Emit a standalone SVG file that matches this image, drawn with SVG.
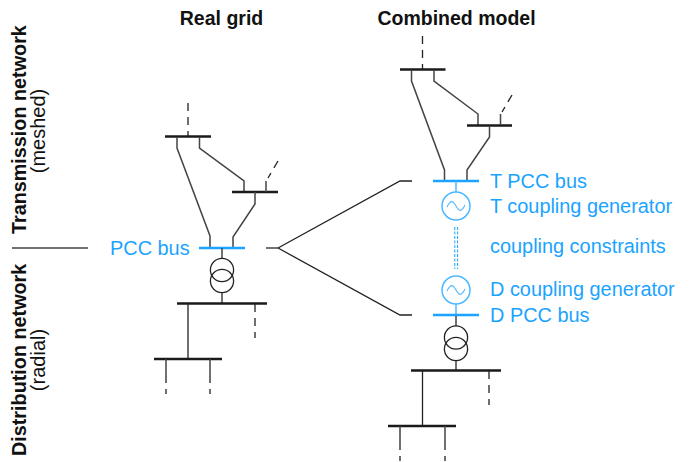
<svg xmlns="http://www.w3.org/2000/svg" width="694" height="462" viewBox="0 0 694 462">
<style>
.bus{stroke:#1a1a1a;stroke-width:2.4;fill:none}
.pcc{stroke:#1aa3ff;stroke-width:2.4;fill:none}
.ln{stroke:#222;stroke-width:1.3;fill:none}
.st{stroke:#444;stroke-width:1.5;fill:none}
.da{stroke:#222;stroke-width:1.3;fill:none;stroke-dasharray:8 6}
.bl{stroke:#4db8ff;stroke-width:1.5;fill:none}
.wv{stroke:#4db8ff;stroke-width:1.100;fill:none}
.dd{stroke:#1aa3ff;stroke-width:1;fill:none;stroke-dasharray:3 1.5}
text{font-family:"Liberation Sans",Arial,sans-serif}
.t{font-size:19.900px;fill:#1aa3ff}
.h{font-size:19.500px;font-weight:700;fill:#111}
.r{font-size:19.800px;font-weight:700;fill:#111}
.s{font-size:20px;fill:#111}
</style>
<g id="labels">
<text class="h" x="221.500" y="25" text-anchor="middle">Real grid</text>
<text class="h" x="456.500" y="25" text-anchor="middle">Combined model</text>
<text class="r" transform="translate(26,234) rotate(-90)">Transmission network</text>
<text class="s" transform="translate(45,131) rotate(-90)" text-anchor="middle">(meshed)</text>
<text class="r" transform="translate(26,456) rotate(-90)">Distribution network</text>
<text class="s" transform="translate(45,360) rotate(-90)" text-anchor="middle">(radial)</text>
</g>
<g id="connectors">
<path class="st" d="M12 248H88"/>
<path class="st" d="M266 248H278"/>
<path class="ln" d="M278 248L400 181H412M278 248L400 315H412"/>
</g>
<g id="real-grid">
<path class="da" d="M188 103V136"/>
<path class="bus" d="M165 136.500H211"/>
<path class="st" d="M177 137V148L210 236V248M199.500 137V148L244 181V192"/>
<path class="bus" d="M232 192H278"/>
<path class="st" d="M266 192V181M255 192V204L233 237V248"/>
<path class="da" d="M278 161L268 178"/>
<path class="pcc" d="M199 248H245"/>
<path class="st" d="M222 248V259M222 292V303"/>
<circle class="ln" cx="222" cy="270" r="11.600"/>
<circle class="ln" cx="222" cy="281" r="11.600"/>
<path class="bus" d="M177 303.500H267"/>
<path class="ln" d="M188 304V359"/>
<path class="da" d="M255 304V338"/>
<path class="bus" d="M154 359H222"/>
<path class="st" d="M166 359V375M210 359V375"/>
<path class="da" d="M166 375V394M210 375V394"/>
</g>
<g id="combined-model">
<path class="da" d="M422.500 36V69"/>
<path class="bus" d="M400 69.500H445.500"/>
<path class="st" d="M411.500 70V81L444.500 170V181M434 70V81L478 114V125"/>
<path class="bus" d="M467 125.500H512"/>
<path class="st" d="M500.500 125V114M489.500 126V137L467 170V181"/>
<path class="da" d="M512 95L502 112"/>
<path class="pcc" d="M433 181H479"/>
<path class="bl" d="M456 181V192"/>
<circle class="bl" cx="456" cy="206" r="14"/>
<path class="wv" d="M447 207C451 199 453 201 456 206C459 211 461 213 465 205"/>
<path class="dd" d="M454.800 227V269M457.600 227V269"/>
<circle class="bl" cx="456" cy="290" r="14"/>
<path class="wv" d="M447 291C451 283 453 285 456 290C459 295 461 297 465 289"/>
<path class="bl" d="M456 304V315"/>
<path class="pcc" d="M433 315H479"/>
<path class="st" d="M456 316V326M456 361V371"/>
<circle class="ln" cx="456" cy="337.500" r="11.600"/>
<circle class="ln" cx="456" cy="349" r="11.600"/>
<path class="bus" d="M411 370.500H501"/>
<path class="ln" d="M422.500 371V426"/>
<path class="da" d="M489 371V405"/>
<path class="bus" d="M388 426H456"/>
<path class="st" d="M400 426V442M445 426V442"/>
<path class="da" d="M400 442V461M445 442V461"/>
</g>
<g id="blue-labels">
<text class="t" x="110" y="254.500">PCC bus</text>
<text class="t" x="490" y="188">T PCC bus</text>
<text class="t" x="490" y="213">T coupling generator</text>
<text class="t" x="490" y="253">coupling constraints</text>
<text class="t" x="490" y="296">D coupling generator</text>
<text class="t" x="490" y="322">D PCC bus</text>
</g>
</svg>
